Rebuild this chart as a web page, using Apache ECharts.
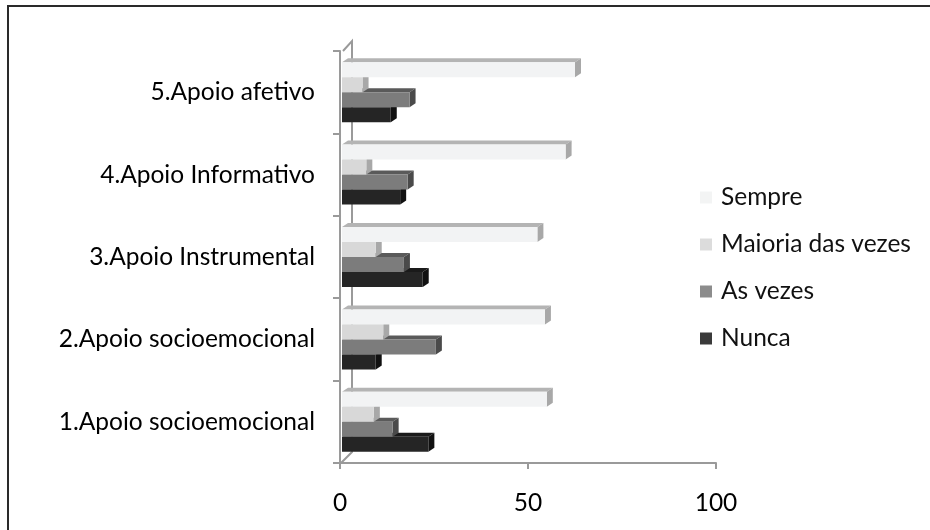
<!DOCTYPE html>
<html>
<head>
<meta charset="utf-8">
<script src="https://cdn.jsdelivr.net/npm/echarts@6/dist/echarts.min.js"></script>
<style>
html,body{margin:0;padding:0;background:#fff;}
#frame{position:absolute;left:7px;top:5px;width:930px;height:530px;border-top:2px solid #2a2a2a;border-left:2px solid #2a2a2a;}
#chart{position:absolute;left:0;top:0;width:930px;height:530px;}
</style>
</head>
<body>
<div id="frame"></div>
<div id="chart"></div>
<script>
const categories = ['1.Apoio socioemocional', '2.Apoio socioemocional', '3.Apoio Instrumental', '4.Apoio Informativo', '5.Apoio afetivo'];
const sempre = [55, 54.5, 52.5, 60, 62.5];
const maioria = [9, 11.5, 9.5, 7, 6];
const asVezes = [14, 25.5, 17, 18, 18.5];
const nunca = [23.5, 9.5, 22, 16, 13.5];
const xTicks = [0, 50, 100];

const FONT = 'Lato';
const FS = 24.5;
const BAR_H = 15;
const DX = 6, DY = 4;

// slot: 0 = top (Sempre) ... 3 = bottom (Nunca)
function makeBar(name, values, slot, front, top, side, legendColor) {
  return {
    name: name,
    type: 'custom',
    itemStyle: { color: legendColor },
    encode: { x: 1, y: 0 },
    data: values.map((v, i) => [i, v]),
    renderItem: function (params, api) {
      const cat = api.value(0);
      const val = api.value(1);
      const c0 = api.coord([0, cat]);
      const c1 = api.coord([val, cat]);
      const x0 = c0[0] + 2;
      const x1 = c1[0];
      const yTop = c0[1] - 2 * BAR_H + slot * BAR_H;
      const yBot = yTop + BAR_H;
      return {
        type: 'group',
        children: [
          { type: 'polygon', shape: { points: [[x0, yTop], [x0 + DX, yTop - DY], [x1 + DX, yTop - DY], [x1, yTop]] }, style: { fill: top } },
          { type: 'polygon', shape: { points: [[x1, yTop], [x1 + DX, yTop - DY], [x1 + DX, yBot - DY], [x1, yBot]] }, style: { fill: side } },
          { type: 'rect', shape: { x: x0, y: yTop, width: x1 - x0, height: BAR_H }, style: { fill: front } }
        ]
      };
    }
  };
}

const wall = {
  name: 'wall',
  type: 'custom',
  silent: true,
  encode: { x: 1, y: 0 },
  data: [[0, 0]],
  renderItem: function (params, api) {
    const band = api.size([0, 1])[1];
    const bottomC = api.coord([0, 0]);
    const topC = api.coord([0, categories.length - 1]);
    const x0 = bottomC[0];
    const yb = bottomC[1] + band / 2;
    const yt = topC[1] - band / 2;
    return {
      type: 'polyline',
      shape: { points: [[x0 + 1, yb], [x0 + 12, yb - 11], [x0 + 12, yt - 10], [x0 + 3, yt]] },
      style: { stroke: '#9a9a9a', lineWidth: 2, fill: null }
    };
  }
};

const chart = echarts.init(document.getElementById('chart'), null, { renderer: 'canvas' });
chart.setOption({
  animation: false,
  backgroundColor: 'transparent',
  grid: { left: 340, top: 51, width: 376, height: 412, containLabel: false },
  legend: {
    orient: 'vertical',
    left: 695,
    top: 180,
    itemGap: 22,
    itemWidth: 12,
    itemHeight: 12,
    icon: 'rect',
    data: ['Sempre', 'Maioria das vezes', 'As vezes', 'Nunca'],
    textStyle: { fontFamily: FONT, fontSize: FS, color: '#111', padding: [0, 0, 0, 4] }
  },
  xAxis: {
    type: 'value',
    min: xTicks[0],
    max: xTicks[xTicks.length - 1],
    interval: 50,
    axisLine: { show: true, lineStyle: { color: '#9a9a9a', width: 2 } },
    axisTick: { show: true, length: 6, inside: false, lineStyle: { color: '#9a9a9a', width: 2 } },
    splitLine: { show: false },
    axisLabel: { fontFamily: FONT, fontSize: FS, color: '#000', margin: 28 }
  },
  yAxis: {
    type: 'category',
    data: categories,
    offset: 3,
    axisLine: { show: true, lineStyle: { color: '#9a9a9a', width: 2 } },
    axisTick: { show: true, length: 7, lineStyle: { color: '#9a9a9a', width: 2 } },
    axisLabel: { fontFamily: FONT, fontSize: FS, color: '#000', margin: 22, padding: [4, 0, 0, 0] }
  },
  series: [
    wall,
    makeBar('Nunca', nunca, 3, '#252525', '#1a1a1a', '#111111', '#3a3a3a'),
    makeBar('As vezes', asVezes, 2, '#7c7c7c', '#5a5a5a', '#4a4a4a', '#8c8c8c'),
    makeBar('Maioria das vezes', maioria, 1, '#d8d8d8', '#bdbdbd', '#a8a8a8', '#dcdcdc'),
    makeBar('Sempre', sempre, 0, '#f2f3f4', '#b4b4b4', '#a8a8a8', '#f3f4f4')
  ]
});
</script>
</body>
</html>
